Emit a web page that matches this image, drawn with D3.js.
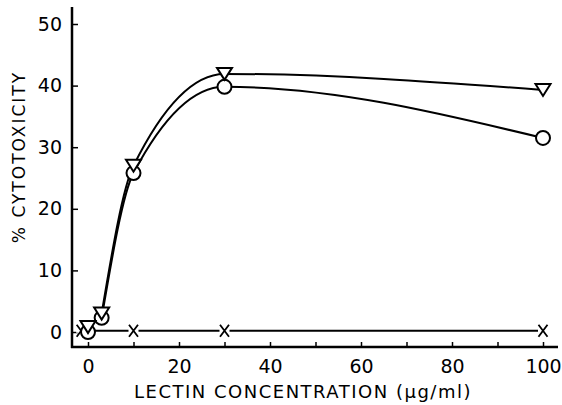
<!DOCTYPE html>
<html>
<head>
<meta charset="utf-8">
<script src="https://cdn.jsdelivr.net/npm/d3@7"></script>
<style>
  body { margin: 0; background: #fff; }
  text { font-family: "DejaVu Sans", sans-serif; fill: #000; }
</style>
</head>
<body>
<div id="chart"></div>
<script>
// values
var conc = [0, 3, 10, 30, 100];
var circleVals = [0, 2.3, 25.8, 39.8, 31.5];
var triangleVals = [0.8, 3.0, 27, 41.9, 39.3];
var ctrlConc = [-1.5, 10, 30, 100];
var ctrlVals = [0.2, 0.2, 0.2, 0.2];
var xTicks = [0, 10, 20, 30, 40, 50, 60, 70, 80, 90, 100];
var xLabels = [0, 20, 40, 60, 80, 100];
var yTicks = [0, 10, 20, 30, 40, 50];

var w = 562, h = 405;
var axisX = 72, axisY = 347;

var svg = d3.select("#chart").append("svg")
    .attr("width", w)
    .attr("height", h);

var x = d3.scaleLinear().domain([0, 100]).range([88, 543]);
var y = d3.scaleLinear().domain([0, 50]).range([332, 24]);

// axis lines
svg.append("line")
    .attr("x1", axisX).attr("x2", axisX)
    .attr("y1", 7).attr("y2", axisY + 1)
    .attr("stroke", "#000").attr("stroke-width", 2.5);
svg.append("line")
    .attr("x1", axisX - 1).attr("x2", 558)
    .attr("y1", axisY).attr("y2", axisY)
    .attr("stroke", "#000").attr("stroke-width", 2.5);

// x ticks (pointing up) and labels
var xAxis = d3.axisBottom(x)
    .tickValues(xTicks)
    .tickSize(-5)
    .tickPadding(9)
    .tickFormat(function(d) { return xLabels.indexOf(d) >= 0 ? d : ""; });
var gx = svg.append("g")
    .attr("transform", "translate(0," + axisY + ")")
    .call(xAxis);
gx.select(".domain").remove();
gx.selectAll("line").attr("stroke-width", 1.5);
gx.selectAll("text")
    .attr("font-size", "19px")
    .attr("font-family", "DejaVu Sans, sans-serif")
    .attr("dy", "0.9em");

// y ticks (pointing right) and labels
var yAxis = d3.axisLeft(y)
    .tickValues(yTicks)
    .tickSize(-6)
    .tickPadding(10);
var gy = svg.append("g")
    .attr("transform", "translate(" + axisX + ",0)")
    .call(yAxis);
gy.select(".domain").remove();
gy.selectAll("line").attr("stroke-width", 1.5);
gy.selectAll("text")
    .attr("font-size", "19px")
    .attr("font-family", "DejaVu Sans, sans-serif");

// axis titles
svg.append("text")
    .attr("x", 303)
    .attr("y", 398)
    .attr("text-anchor", "middle")
    .attr("font-size", "18px")
    .attr("letter-spacing", "1.5px")
    .text("LECTIN CONCENTRATION (\u03bcg/ml)");

svg.append("text")
    .attr("transform", "translate(25,157) rotate(-90)")
    .attr("text-anchor", "middle")
    .attr("font-size", "17px")
    .attr("letter-spacing", "2px")
    .text("% CYTOTOXICITY");

// lines (the 0-3 stretch is hidden under the markers)
var curve = d3.line()
    .x(function(d) { return x(d[0]); })
    .y(function(d) { return y(d[1]); })
    .curve(d3.curveMonotoneX);

var straight = d3.line()
    .x(function(d) { return x(d[0]); })
    .y(function(d) { return y(d[1]); });

var circleData = d3.zip(conc, circleVals);
var triData = d3.zip(conc, triangleVals);
var ctrlData = d3.zip(ctrlConc, ctrlVals);

[circleData, triData].forEach(function(d) {
    svg.append("path")
        .attr("d", curve(d.slice(1)))
        .attr("fill", "none")
        .attr("stroke", "#000")
        .attr("stroke-width", 2);
});
svg.append("path")
    .attr("d", straight(ctrlData))
    .attr("fill", "none")
    .attr("stroke", "#000")
    .attr("stroke-width", 1.8);

// control markers (x) with a white halo
var xm = svg.selectAll(".xm")
    .data(ctrlData)
    .enter().append("g")
    .attr("class", "xm")
    .attr("transform", function(d) { return "translate(" + x(d[0]) + "," + y(d[1]) + ")"; });
xm.append("rect")
    .attr("x", -5).attr("y", -2).attr("width", 10).attr("height", 4)
    .attr("fill", "#fff");
xm.append("path")
    .attr("d", "M-4.5,-6L4.5,6M4.5,-6L-4.5,6")
    .attr("stroke", "#000")
    .attr("stroke-width", 1.8)
    .attr("fill", "none");

// circle markers
svg.selectAll(".cm")
    .data(circleData)
    .enter().append("circle")
    .attr("class", "cm")
    .attr("cx", function(d) { return x(d[0]); })
    .attr("cy", function(d) { return y(d[1]); })
    .attr("r", 7)
    .attr("fill", "#fff")
    .attr("stroke", "#000")
    .attr("stroke-width", 2);

// triangle markers (pointing down)
svg.selectAll(".tm")
    .data(triData)
    .enter().append("path")
    .attr("class", "tm")
    .attr("transform", function(d) { return "translate(" + x(d[0]) + "," + y(d[1]) + ")"; })
    .attr("d", "M-7.5,-6L7.5,-6L0,6Z")
    .attr("fill", "#fff")
    .attr("stroke", "#000")
    .attr("stroke-width", 2)
    .attr("stroke-linejoin", "miter");
</script>
</body>
</html>
